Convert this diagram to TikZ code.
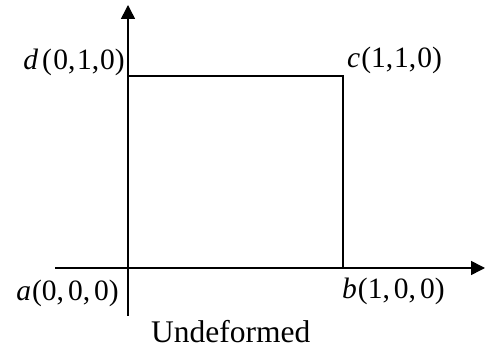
\documentclass[tikz,border=0pt]{standalone}
\usepackage{fontspec}
\setmainfont{Liberation Serif}
\usetikzlibrary{arrows.meta}
\tikzset{
  axisline/.style={line width=1.5pt, -{Triangle[length=14pt,width=14pt]}},
  edgeline/.style={line width=1.5pt},
  lbl/.style={inner sep=0pt, font=\fontsize{29.5}{32}\selectfont},
  captiontext/.style={inner sep=0pt, font=\fontsize{31.5}{34}\selectfont}
}
\begin{document}
\begin{tikzpicture}[x=1pt,y=1pt]
\useasboundingbox (0,0) rectangle (486,352);
\coordinate (o) at (128,84);
\coordinate (xs) at (55,84);
\coordinate (xe) at (485,84);
\coordinate (ys) at (128,36);
\coordinate (ye) at (128,347);
\coordinate (b) at (343,84);
\coordinate (c) at (343,276);
\coordinate (d) at (128,276);
\draw[axisline] (xs) -- (xe);
\draw[axisline] (ys) -- (ye);
\draw[edgeline] (d) -- (c) -- (b);
\node[lbl, anchor=base east] (la) at (119,51) {\textit{a}\hspace{1pt}(0,\hspace{4pt}0,\hspace{4pt}0)};
\node[lbl, anchor=base west] (lb) at (342,53) {\textit{b}\hspace{1pt}(1,\hspace{4pt}0,\hspace{4pt}0)};
\node[lbl, anchor=base west] (lc) at (347,284) {\textit{c}\hspace{1pt}(1,\hspace{1pt}1,\hspace{1pt}0)};
\node[lbl, anchor=base east] (ld) at (125,282) {\textit{d}\hspace{4pt}(\hspace{1.5pt}0,\hspace{1.5pt}1,\hspace{1pt}0)};
\node[captiontext, anchor=base west] (captn) at (151,9) {Undeformed};
\end{tikzpicture}
\end{document}
